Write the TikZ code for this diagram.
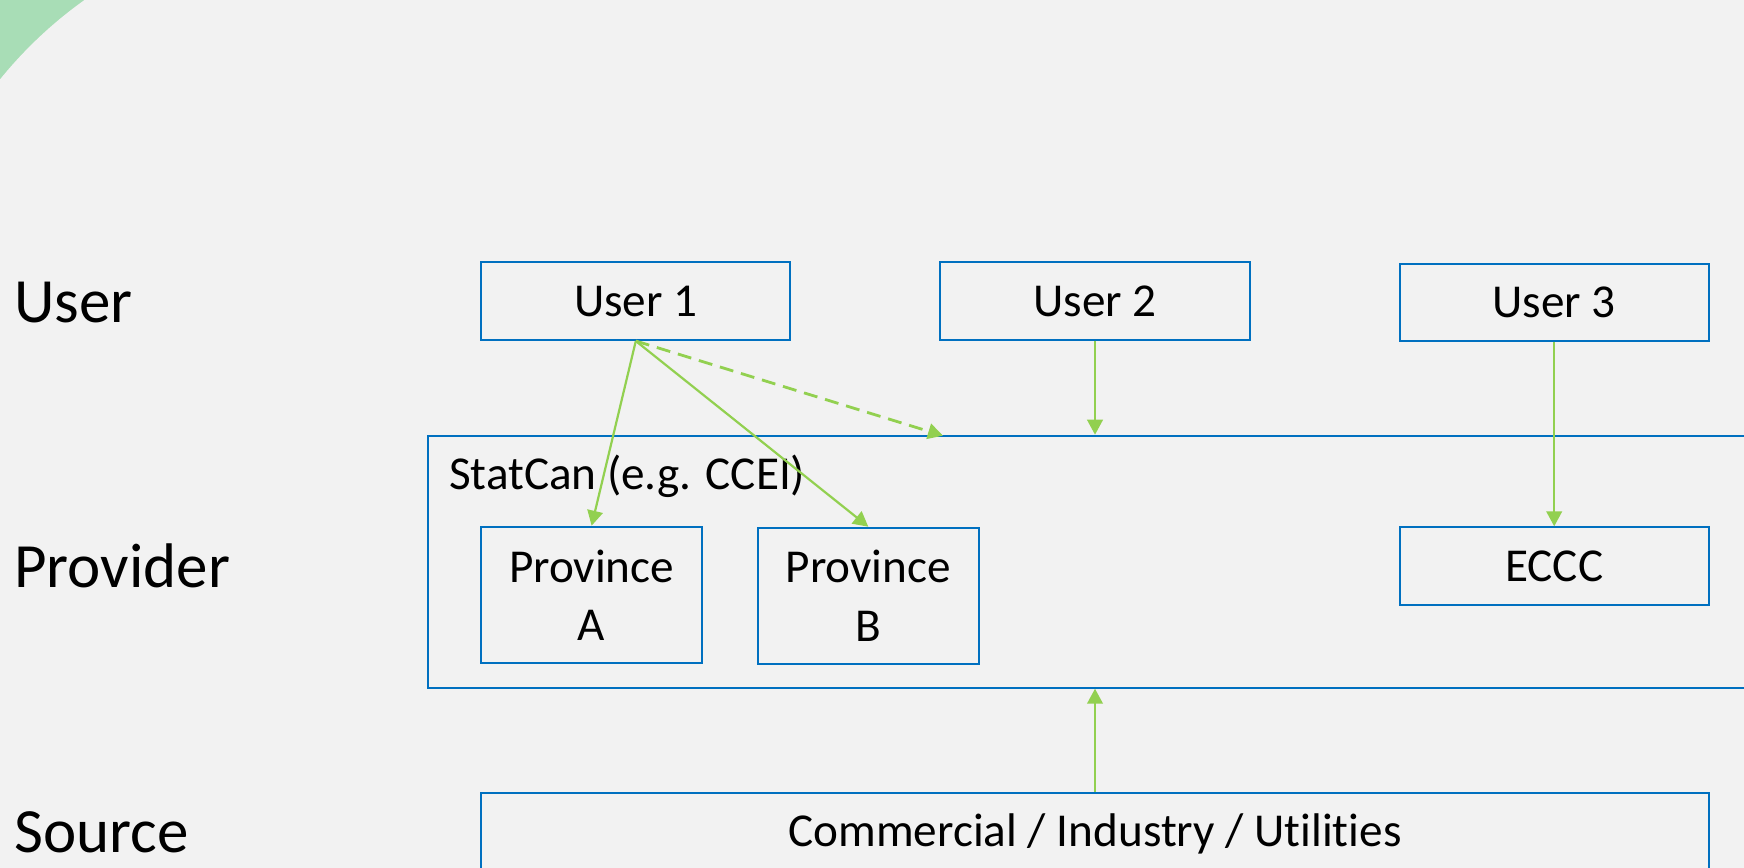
\documentclass[tikz,border=0pt]{standalone}
\usepackage{fontspec}
\setmainfont{Carlito}[Ligatures={NoCommon}]
\usetikzlibrary{arrows.meta,calc}
\definecolor{bgc}{RGB}{242,242,242}
\definecolor{boxblue}{RGB}{0,112,192}
\definecolor{arrowgreen}{RGB}{146,208,80}
\definecolor{decogreen}{RGB}{168,221,182}
\newcommand\bxfont{\fontsize{23.6}{29.2}\selectfont}
\newcommand\lnfont{\fontsize{31.5}{36}\selectfont}
\begin{document}
\begin{tikzpicture}[x=0.5pt,y=-0.5pt,
  box/.style={draw=boxblue,line width=1pt,inner sep=0pt,align=center,font=\bxfont,text=black},
  flow/.style={draw=arrowgreen,line width=1.1pt,-{Triangle[length=7.5pt,width=7.8pt,fill=arrowgreen]}},
  lane/.style={anchor=base west,inner sep=0pt,font=\lnfont,text=black}]
\useasboundingbox (0,0) rectangle (1744,867);
\clip (0,0) rectangle (1744,867);
% decorative corner: green, covered by a large background-coloured disc
\fill[decogreen] (-10,-10) rectangle (300,300);
\fill[bgc] (332,348) circle[radius=213.5pt];
\fill[bgc] (300,-10) rectangle (1754,877);
\fill[bgc] (-10,300) rectangle (300,877);
% lane labels
\node[lane] (luser) at (14,322.8) {User};
\node[lane] (lprov) at (14,587.8) {Provider};
\node[lane] (lsrc) at (14,852.4) {Source};
% provider container
\node[box,minimum width=686.2pt,minimum height=126pt] (sc) at (1113.85,561.7) {};
\node[anchor=base west,inner sep=0pt,font=\bxfont] (sctext) at (448.7,489.3) {StatCan (e.g. CCEI)};
% users
\node[box,minimum width=154.6pt,minimum height=38.85pt] (u1) at (635.8,301.15) {User 1};
\node[box,minimum width=154.6pt,minimum height=38.6pt] (u2) at (1095,300.9) {User 2};
\node[box,minimum width=154.5pt,minimum height=38.65pt] (u3) at (1554.2,302.65) {User 3};
% providers
\node[box,minimum width=110.4pt,minimum height=68.3pt] (pa) at (591.6,595) {Province\\A};
\node[box,minimum width=110.4pt,minimum height=68pt] (pb) at (868.3,595.7) {Province\\B};
\node[box,minimum width=154.5pt,minimum height=39pt] (eccc) at (1554.2,566.3) {ECCC};
% source
\node[box,minimum width=614pt,minimum height=53.65pt] (src) at (1095,846.35) {};
\node[anchor=base,inner sep=0pt,font=\bxfont] (srctext) at (1095,846.7) {Commercial / Industry / Utilities};
% connectors
\coordinate (dtip) at (943,435.7);
\draw[flow] (u1.south) -- (pa.north);
\draw[flow] (u1.south) -- (pb.north);
\draw[flow,line width=1.4pt,dash pattern=on 7pt off 4pt] (u1.south) -- (dtip);
\draw[flow] (u2.south) -- (u2.south |- sc.north);
\draw[flow] (u3.south) -- (eccc.north);
\draw[flow] (src.north) -- (src.north |- sc.south);
\end{tikzpicture}
\end{document}
